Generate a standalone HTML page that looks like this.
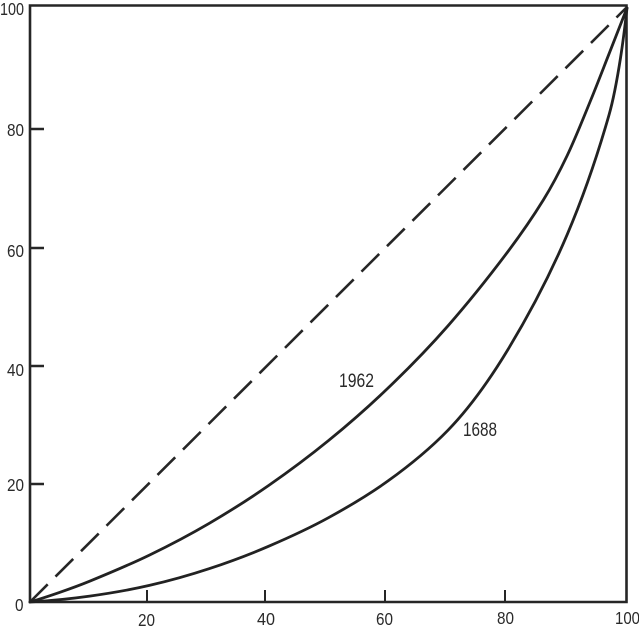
<!DOCTYPE html>
<html>
<head>
<meta charset="utf-8">
<style>
html,body{margin:0;padding:0;background:#fff;}
svg{display:block;}
text{font-family:"Liberation Sans Narrow","Liberation Sans",sans-serif;fill:#2a2a2a;}
</style>
</head>
<body>
<svg width="639" height="627" viewBox="0 0 639 627" xmlns="http://www.w3.org/2000/svg">
<rect width="639" height="627" fill="#fff"/>
<g stroke="#262626" stroke-width="2.6" fill="none">
<path d="M30,5.5 L626.5,5.5 L626.5,602 L30,602 Z"/>
<path d="M30,129 L44,129 M30,248 L44,248 M30,366 L44,366 M30,484 L44,484"/>
<path d="M147,602 L147,590 M265,602 L265,590 M385,602 L385,590 M505,602 L505,590" stroke-width="2"/>
</g>
<path d="M30,602 L626,8" stroke="#262626" stroke-width="2.6" fill="none" stroke-dasharray="25 11"/>
<!-- 1962 -->
<path d="M30,602 C39.97,599.1 49.93,595.74 59.9,592.3 C69.83,588.87 79.77,585.27 89.7,581.2 C109.6,573.04 129.5,564.75 149.4,555.1 C169.3,545.45 189.2,535.04 209.1,523.4 C229,511.76 248.9,499.23 268.8,485.4 C288.7,471.57 308.6,456.82 328.5,440.6 C348.4,424.38 368.3,407 388.2,387.9 C408.1,368.8 428,348.59 447.9,325.9 C467.8,303.21 487.7,278.47 507.6,252 C519.53,236.13 531.47,219.23 543.4,199.9 C551.37,186.99 559.33,172.04 567.3,155.3 C575.27,138.56 583.23,118.53 591.2,99 C597.17,84.37 603.13,68.86 609.1,53.7 C615.07,38.54 621.03,23.28 627,8" stroke="#222" stroke-width="2.8" fill="none" stroke-linecap="round"/>
<!-- 1688 -->
<path d="M30,602 C49.9,600.81 69.8,598.89 89.7,596.1 C109.6,593.31 129.5,589.98 149.4,585.4 C169.3,580.82 189.2,575.27 209.1,568.7 C229,562.13 248.9,554.76 268.8,546.2 C288.7,537.64 308.6,528.65 328.5,517.7 C348.4,506.75 368.3,495.13 388.2,480.8 C408.1,466.47 428,450.8 447.9,430.3 C467.8,409.8 487.7,382.94 507.6,350.1 C527.5,317.26 547.4,281.07 567.3,234.3 C581.2,201.64 595.1,163.65 609,115 C612.83,101.6 616.67,82.51 620.5,58 C622.67,44.11 624.83,27.53 627,8" stroke="#222" stroke-width="2.8" fill="none" stroke-linecap="round"/>
<text x="339" y="387" font-size="19" textLength="35" lengthAdjust="spacingAndGlyphs">1962</text>
<text x="463" y="436" font-size="19" textLength="34" lengthAdjust="spacingAndGlyphs">1688</text>
<text x="0" y="15" font-size="17.5" textLength="24" lengthAdjust="spacingAndGlyphs">100</text>
<text x="7" y="136" font-size="17.5" textLength="17" lengthAdjust="spacingAndGlyphs">80</text>
<text x="7" y="257" font-size="17.5" textLength="17" lengthAdjust="spacingAndGlyphs">60</text>
<text x="7" y="376" font-size="17.5" textLength="17" lengthAdjust="spacingAndGlyphs">40</text>
<text x="7" y="491" font-size="17.5" textLength="17" lengthAdjust="spacingAndGlyphs">20</text>
<text x="15" y="611" font-size="17.5" textLength="8.5" lengthAdjust="spacingAndGlyphs">0</text>
<text x="138" y="626" font-size="17.5" textLength="17" lengthAdjust="spacingAndGlyphs">20</text>
<text x="257" y="625" font-size="17.5" textLength="18" lengthAdjust="spacingAndGlyphs">40</text>
<text x="376" y="625" font-size="17.5" textLength="17" lengthAdjust="spacingAndGlyphs">60</text>
<text x="497" y="624" font-size="17.5" textLength="17" lengthAdjust="spacingAndGlyphs">80</text>
<text x="615" y="624" font-size="17.5" textLength="25" lengthAdjust="spacingAndGlyphs">100</text>
</svg>
</body>
</html>
